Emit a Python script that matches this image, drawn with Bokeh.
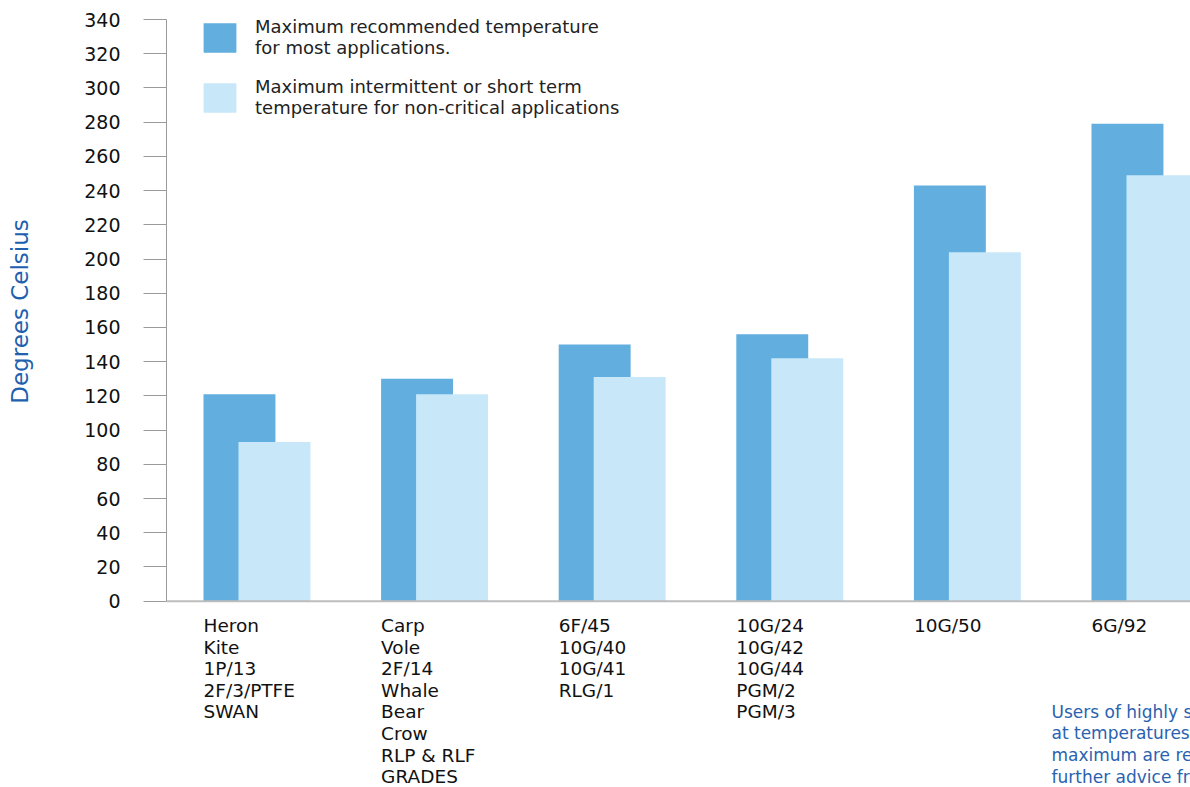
from bokeh.plotting import figure
from bokeh.layouts import column
from bokeh.models import Range1d, FixedTicker, Legend, LegendItem, ColumnDataSource, Span
from bokeh.core.properties import value
from bokeh.embed import file_html
from bokeh.resources import INLINE

# ---- data ----
group_labels = [
    ["Heron", "Kite", "1P/13", "2F/3/PTFE", "SWAN"],
    ["Carp", "Vole", "2F/14", "Whale", "Bear", "Crow", "RLP & RLF", "GRADES"],
    ["6F/45", "10G/40", "10G/41", "RLG/1"],
    ["10G/24", "10G/42", "10G/44", "PGM/2", "PGM/3"],
    ["10G/50"],
    ["6G/92"],
]
recommended = [121, 130, 150, 156, 243, 279]
intermittent = [93, 121, 131, 142, 204, 249]
y_ticks = [0, 20, 40, 60, 80, 100, 120, 140, 160, 180, 200, 220, 240, 260, 280, 300, 320, 340]
legend_labels = [
    "Maximum recommended temperature\nfor most applications.",
    "Maximum intermittent or short term\ntemperature for non-critical applications",
]
y_title = "Degrees Celsius"
note_lines = ["Users of highly stressed gaskets", "at temperatures near the",
              "maximum are recommended to seek", "further advice from ..."]

# ---- style / layout ----
DARK = "#62AEDF"
LIGHT = "#C8E7F9"
FONT = "DejaVu Sans"
BAR_W = 0.405
DARK_OFF = 0.2025
LIGHT_OFF = 0.2025 + 0.197
PX_X = 177.6            # px per group
FRAME_L, FRAME_W = 166, 1024
FRAME_T = 19
ZERO_PY = 600.7         # pixel row of value 0
FRAME_B = 603           # bottom pixel of the top frame
TOP_PAD = 12            # empty border below top frame (room for the "0" label)
TOP_BOTTOM = FRAME_B + TOP_PAD
CANVAS_H = 787
YMAX = 340
PX_Y = (ZERO_PY - FRAME_T) / YMAX
X0 = -37 / PX_X

x_range = Range1d(X0, X0 + FRAME_W / PX_X)

idx = list(range(len(group_labels)))
src = ColumnDataSource(dict(
    xd=[i + DARK_OFF for i in idx],
    xl=[i + LIGHT_OFF for i in idx],
    rec=recommended,
    inter=intermittent,
))

# ---------- top figure: bars ----------
p = figure(output_backend="svg", toolbar_location=None,
           x_range=x_range,
           y_range=Range1d(-(FRAME_B - ZERO_PY) / PX_Y, YMAX),
           min_border_left=FRAME_L, min_border_right=0, min_border_top=FRAME_T,
           min_border_bottom=TOP_PAD,
           frame_width=FRAME_W, frame_height=FRAME_B - FRAME_T)
p.outline_line_color = None
p.background_fill_color = "white"
p.border_fill_color = "white"
p.xgrid.grid_line_color = None
p.ygrid.grid_line_color = None
p.xaxis.visible = False

r1 = p.vbar(x="xd", top="rec", width=BAR_W, bottom=0, source=src, fill_color=DARK, line_color=None)
r2 = p.vbar(x="xl", top="inter", width=BAR_W, bottom=0, source=src, fill_color=LIGHT, line_color=None)

# baseline at zero
p.add_layout(Span(location=0, dimension="width", line_color="#bdbdbd", line_width=2))

ya = p.yaxis[0]
ya.bounds = (0, YMAX)
ya.ticker = FixedTicker(ticks=y_ticks)
ya.minor_tick_line_color = None
ya.major_tick_in = 0
ya.major_tick_out = 23
ya.major_tick_line_color = "#9a9a9a"
ya.axis_line_color = "#9a9a9a"
ya.major_label_standoff = 23
ya.major_label_text_font = FONT
ya.major_label_text_font_size = "19px"
ya.major_label_text_color = "#111111"
ya.axis_label = y_title
ya.axis_label_text_font = FONT
ya.axis_label_text_font_style = "normal"
ya.axis_label_text_font_size = "23px"
ya.axis_label_text_color = "#2160AE"
ya.axis_label_standoff = 48

legend = Legend(items=[LegendItem(label=legend_labels[0], renderers=[r1]),
                       LegendItem(label=legend_labels[1], renderers=[r2])],
                location=(33, FRAME_B - 118))
legend.glyph_width = 41
legend.glyph_height = 37
legend.label_standoff = 15
legend.spacing = 18
legend.padding = 0
legend.margin = 0
legend.border_line_color = None
legend.background_fill_alpha = 0
legend.label_text_font = FONT
legend.label_text_font_size = "18px"
legend.label_text_color = "#222222"
legend.label_text_line_height = 1.2
p.add_layout(legend)

# ---------- bottom figure: category labels and note ----------
BOT_H = CANVAS_H - TOP_BOTTOM
q = figure(output_backend="svg", toolbar_location=None,
           x_range=x_range, y_range=Range1d(BOT_H, 0),
           min_border_left=FRAME_L, min_border_right=0, min_border_top=0, min_border_bottom=0,
           frame_width=FRAME_W, frame_height=BOT_H)
q.outline_line_color = None
q.background_fill_color = "white"
q.border_fill_color = "white"
q.grid.grid_line_color = None
q.axis.visible = False

LINE_H = 21.6
lx, ly, lt = [], [], []
for i, lines in zip(idx, group_labels):
    for j, t in enumerate(lines):
        lx.append(i)
        ly.append(625 - TOP_BOTTOM + j * LINE_H)
        lt.append(t)
q.text(x=lx, y=ly, text=lt, text_font=value(FONT), text_font_size="18.5px",
       text_color="#111111", text_align="left", text_baseline="middle")

nx = [X0 + (1051 - FRAME_L) / PX_X] * len(note_lines)
ny = [711 - TOP_BOTTOM + j * 21.8 for j in range(len(note_lines))]
q.text(x=nx, y=ny, text=note_lines, text_font=value(FONT), text_font_size="17px",
       text_color="#2A62B0", text_align="left", text_baseline="middle")

layout = column(p, q, spacing=0)
open("out.html", "w").write(file_html(layout, INLINE))
